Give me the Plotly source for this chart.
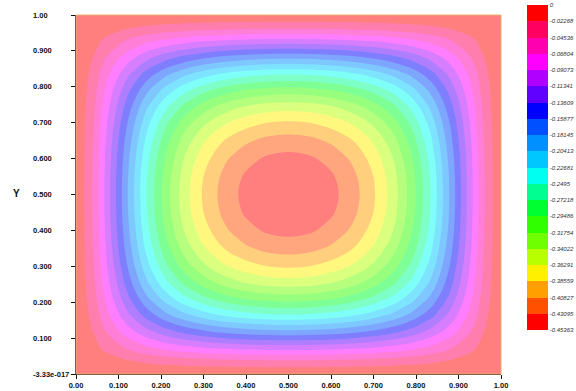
import numpy as np
import plotly.graph_objects as go

# Sample positions of one quarter of the unit square (0 .. 0.5 in x and y)
quarter_coords = [0, 0.042, 0.07, 0.12, 0.165, 0.21, 0.255, 0.302, 0.35, 0.4, 0.45, 0.5]

# Field depth at those positions, in units of 1e-4 (value = -depth * 1e-4);
# rows follow y, columns follow x
quarter_depth_e4 = [
    [0, 0, 0, 0, 0, 0, 0, 0, 0, 0, 0, 0],
    [0, 84, 148, 245, 317, 372, 414, 447, 471, 488, 498, 501],
    [0, 148, 269, 457, 599, 708, 793, 858, 906, 939, 958, 965],
    [0, 245, 457, 805, 1074, 1286, 1451, 1578, 1672, 1737, 1776, 1788],
    [0, 317, 599, 1074, 1453, 1755, 1993, 2177, 2314, 2409, 2465, 2483],
    [0, 372, 708, 1286, 1755, 2133, 2434, 2669, 2844, 2965, 3037, 3060],
    [0, 414, 793, 1451, 1993, 2434, 2788, 3065, 3273, 3417, 3502, 3530],
    [0, 447, 858, 1578, 2177, 2669, 3065, 3377, 3611, 3774, 3871, 3903],
    [0, 471, 906, 1672, 2314, 2844, 3273, 3611, 3866, 4044, 4149, 4184],
    [0, 488, 939, 1737, 2409, 2965, 3417, 3774, 4044, 4233, 4344, 4381],
    [0, 498, 958, 1776, 2465, 3037, 3502, 3871, 4149, 4344, 4460, 4498],
    [0, 501, 965, 1788, 2483, 3060, 3530, 3903, 4184, 4381, 4498, 4536],
]

# Legend levels, top to bottom
level_labels = ["0", "-0.02268", "-0.04536", "-0.06804", "-0.09073", "-0.11341",
                "-0.13609", "-0.15877", "-0.18145", "-0.20413", "-0.22681",
                "-0.2495", "-0.27218", "-0.29486", "-0.31754", "-0.34022",
                "-0.36291", "-0.38559", "-0.40827", "-0.43095", "-0.45363"]

# Band colours from the lowest band (bottom of the legend) to the highest
band_colors = ["#FF0000", "#FF5000", "#FFA000", "#FFF000", "#B8FF00", "#70FF00",
               "#30FF00", "#00FF30", "#00FF90", "#00FFF0", "#00C8FF", "#0090FF",
               "#0050FF", "#0000FF", "#6000FF", "#B000FF", "#FF00FF", "#FF00B0",
               "#FF0060", "#FF0000"]

x_ticks = [0, 0.1, 0.2, 0.3, 0.4, 0.5, 0.6, 0.7, 0.8, 0.9, 1.0]
x_tick_labels = ["0.00", "0.100", "0.200", "0.300", "0.400", "0.500",
                 "0.600", "0.700", "0.800", "0.900", "1.00"]
y_ticks = [0, 0.1, 0.2, 0.3, 0.4, 0.5, 0.6, 0.7, 0.8, 0.9, 1.0]
y_tick_labels = ["-3.33e-017", "0.100", "0.200", "0.300", "0.400", "0.500",
                 "0.600", "0.700", "0.800", "0.900", "1.00"]

# ---- assemble the full square by mirroring the quarter about x = 0.5 and y = 0.5
q = np.array(quarter_coords)
coords = np.concatenate([q, 1.0 - q[-2::-1]])
Q = -np.array(quarter_depth_e4, dtype=float) * 1e-4
half = np.hstack([Q, Q[:, -2::-1]])
z = np.vstack([half, half[-2::-1, :]])

level_values = [float(s) for s in level_labels]
zlo, zhi = min(level_values), max(level_values)
n_bands = len(band_colors)
step = (zhi - zlo) / n_bands

colorscale = []
for i, c in enumerate(band_colors):
    colorscale.append([i / n_bands, c])
    colorscale.append([(i + 1) / n_bands, c])

W, H = 576, 391
ML, MR, MT, MB = 76, 75, 15, 17
PW, PH = W - ML - MR, H - MT - MB

axis_font = dict(family="Liberation Sans, Arial, sans-serif", size=7.5, color="#111111", weight="bold")

fig = go.Figure()
fig.add_trace(go.Contour(
    x=coords, y=coords, z=z,
    zmin=zlo, zmax=zhi,
    autocontour=False,
    contours=dict(start=zlo, end=zhi, size=step, coloring="fill", showlines=False),
    line=dict(width=0, smoothing=1.0),
    colorscale=colorscale,
    opacity=0.5,
    colorbar=dict(
        tickmode="array", tickvals=level_values, ticktext=level_labels,
        ticks="", ticklen=0, outlinewidth=0,
        thickness=21, lenmode="pixels", len=325,
        x=(527 - ML) / PW, xanchor="left", xpad=0,
        y=(H - MB - 167.5) / PH, yanchor="middle", ypad=0,
        tickfont=dict(family="Liberation Sans Narrow, Liberation Sans, sans-serif",
                      size=6, color="#333333", style="italic"),
    ),
    hoverinfo="skip",
))

fig.update_xaxes(range=[0, 1], tickmode="array", tickvals=x_ticks, ticktext=x_tick_labels,
                 ticks="outside", ticklen=4, tickcolor="#111111", showline=True,
                 linecolor="#111111", linewidth=1, showgrid=False, zeroline=False,
                 tickfont=axis_font)
fig.update_yaxes(range=[0, 1], tickmode="array", tickvals=y_ticks, showticklabels=False,
                 ticks="outside", ticklen=4, tickcolor="#111111", showline=True,
                 linecolor="#111111", linewidth=1, showgrid=False, zeroline=False)

# y tick labels, left-aligned in a column beside the axis
for v, t in zip(y_ticks, y_tick_labels):
    fig.add_annotation(x=(31 - ML) / PW, xref="paper", y=v, yref="y", text=t,
                       showarrow=False, xanchor="left", yanchor="middle", font=axis_font)

fig.add_annotation(x=(16 - ML) / PW, xref="paper", y=0.503, yref="paper", text="Y",
                   showarrow=False, xanchor="center", yanchor="middle",
                   font=dict(family="Liberation Sans, Arial, sans-serif", size=10,
                             color="#111111", weight="bold"))

# thin frame around the plotting area
fig.add_shape(type="rect", xref="paper", yref="paper", x0=0, y0=0, x1=1, y1=1,
              line=dict(color="#E8B070", width=1), layer="above")

fig.update_layout(width=W, height=H,
                  margin=dict(l=ML, r=MR, t=MT, b=MB, autoexpand=False),
                  paper_bgcolor="white", plot_bgcolor="white", showlegend=False)
fig.write_html("out.html")
